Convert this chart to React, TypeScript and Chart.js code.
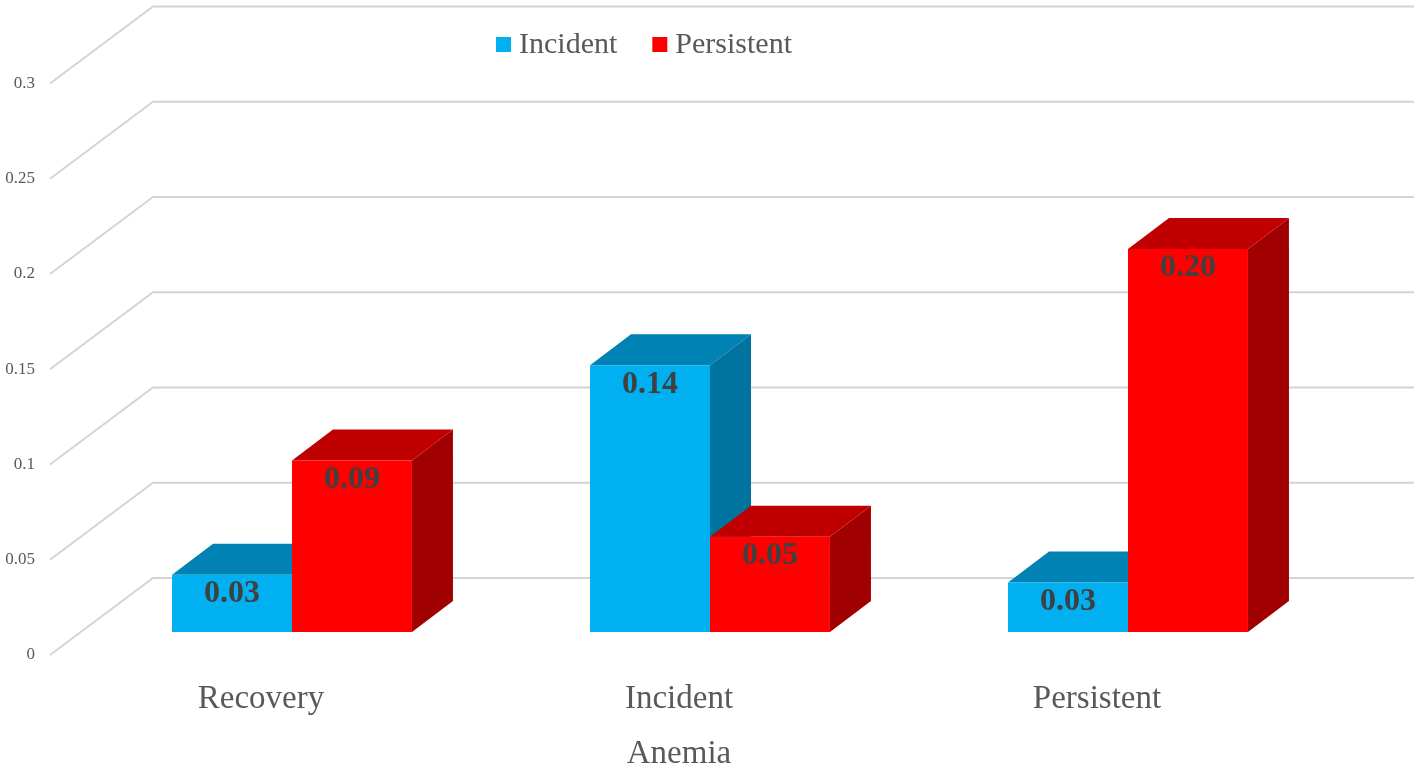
import React, { useEffect, useRef } from 'react';
import { Chart, registerables } from 'chart.js';

Chart.register(...registerables);

// data
const categories = ['Recovery', 'Incident', 'Persistent'];
const seriesNames = ['Incident', 'Persistent'];
const incidentValues = [0.03, 0.14, 0.026];
const persistentValues = [0.09, 0.05, 0.201];
const yTicks = [0, 0.05, 0.1, 0.15, 0.2, 0.25, 0.3];
const axisTitle = 'Anemia';

// front / top / side faces
const faceColors = [
  { front: '#00B0F0', top: '#0083B4', side: '#00739E' },
  { front: '#FF0000', top: '#C00000', side: '#A00000' },
];

const SERIF = '"Liberation Serif", "Times New Roman", serif';
const TEXT = '#595959';

// bar depth and wall offsets (oblique projection)
const DX = 41;
const DY = -31;
const FRONT = { dx: -33, dy: 23 };
const BACK = { dx: 70, dy: -54 };

const threeD = {
  id: 'threeD',
  beforeDatasetsDraw(chart: any) {
    const { ctx, chartArea, scales } = chart;
    const y = scales.y;
    ctx.save();
    // walls: diagonal + back wall gridlines
    ctx.strokeStyle = '#d4d4d4';
    ctx.lineWidth = 2;
    yTicks.forEach((v) => {
      const py = y.getPixelForValue(v);
      ctx.beginPath();
      ctx.moveTo(chartArea.left + FRONT.dx, py + FRONT.dy);
      ctx.lineTo(chartArea.left + BACK.dx, py + BACK.dy);
      ctx.lineTo(chart.width, py + BACK.dy);
      ctx.stroke();
    });
    // top and side faces; fronts are drawn by chart.js afterwards
    chart.data.datasets.forEach((ds: any, di: number) => {
      const meta = chart.getDatasetMeta(di);
      const c = faceColors[di];
      meta.data.forEach((bar: any) => {
        const { x, y: top, base, width } = bar.getProps(['x', 'y', 'base', 'width'], true);
        const l = x - width / 2;
        const r = x + width / 2;
        ctx.fillStyle = c.side;
        ctx.beginPath();
        ctx.moveTo(r, top);
        ctx.lineTo(r + DX, top + DY);
        ctx.lineTo(r + DX, base + DY);
        ctx.lineTo(r, base);
        ctx.closePath();
        ctx.fill();
        ctx.fillStyle = c.top;
        ctx.beginPath();
        ctx.moveTo(l, top);
        ctx.lineTo(l + DX, top + DY);
        ctx.lineTo(r + DX, top + DY);
        ctx.lineTo(r, top);
        ctx.closePath();
        ctx.fill();
      });
    });
    ctx.restore();
  },
  afterDatasetsDraw(chart: any) {
    const { ctx } = chart;
    ctx.save();
    ctx.font = 'bold 32px ' + SERIF;
    ctx.fillStyle = '#404040';
    ctx.textAlign = 'center';
    ctx.textBaseline = 'middle';
    chart.data.datasets.forEach((ds: any, di: number) => {
      chart.getDatasetMeta(di).data.forEach((bar: any, i: number) => {
        const { x, y } = bar.getProps(['x', 'y'], true);
        ctx.fillText(Number(ds.data[i]).toFixed(2), x, y + 19);
      });
    });
    ctx.restore();
  },
  afterDraw(chart: any) {
    const { ctx, chartArea } = chart;
    ctx.save();
    // axis title, placed on the front plane
    ctx.font = '33px ' + SERIF;
    ctx.fillStyle = TEXT;
    ctx.textAlign = 'center';
    ctx.textBaseline = 'alphabetic';
    ctx.fillText(axisTitle, (chartArea.left + chartArea.right) / 2 + FRONT.dx + 2, 763);

    // legend
    ctx.font = '30px ' + SERIF;
    ctx.textAlign = 'left';
    const box = 15;
    const gap = 8;
    const between = 35;
    const widths = seriesNames.map((n) => ctx.measureText(n).width);
    const total = widths.reduce((a, w) => a + box + gap + w, 0) + between * (seriesNames.length - 1);
    let lx = 644 - total / 2;
    seriesNames.forEach((n, i) => {
      ctx.fillStyle = faceColors[i].front;
      ctx.fillRect(lx, 37, box, box);
      ctx.fillStyle = TEXT;
      ctx.fillText(n, lx + box + gap, 53);
      lx += box + gap + widths[i] + between;
    });
    ctx.restore();
  },
};

const App: React.FC = () => {
  const canvasRef = useRef<HTMLCanvasElement>(null);
  const chartRef = useRef<Chart | null>(null);

  useEffect(() => {
    document.body.style.margin = '0';
    if (!canvasRef.current) return;
    if (chartRef.current) chartRef.current.destroy();

    chartRef.current = new Chart(canvasRef.current, {
      type: 'bar',
      data: {
        labels: categories,
        datasets: [
          {
            label: seriesNames[0],
            data: incidentValues,
            backgroundColor: faceColors[0].front,
            borderWidth: 0,
          },
          {
            label: seriesNames[1],
            data: persistentValues,
            backgroundColor: faceColors[1].front,
            borderWidth: 0,
          },
        ],
      },
      options: {
        animation: false,
        responsive: true,
        maintainAspectRatio: false,
        datasets: {
          bar: { categoryPercentage: 0.574, barPercentage: 1 },
        },
        layout: { padding: { left: 0, right: 77, top: 60.5, bottom: 0 } },
        plugins: {
          legend: { display: false },
          tooltip: { enabled: false },
        },
        scales: {
          x: {
            grid: { display: false, drawTicks: false },
            border: { display: false },
            ticks: {
              font: { family: SERIF, size: 33 },
              color: TEXT,
              padding: 48,
              labelOffset: FRONT.dx + 2,
            },
            afterFit: (s: any) => {
              s.height = 137;
            },
          },
          y: {
            min: 0,
            max: 0.3,
            grid: { display: false, drawTicks: false },
            border: { display: false },
            afterBuildTicks: (s: any) => {
              s.ticks = yTicks.map((v) => ({ value: v }));
            },
            ticks: {
              font: { family: SERIF, size: 17 },
              color: TEXT,
              padding: 48,
              labelOffset: FRONT.dy,
              callback: (v: any) => String(Number(Number(v).toFixed(2))),
            },
            afterFit: (s: any) => {
              s.width = 83;
            },
          },
        },
      },
      plugins: [threeD],
    });

    return () => {
      if (chartRef.current) {
        chartRef.current.destroy();
        chartRef.current = null;
      }
    };
  }, []);

  return (
    <div style={{ width: 1414, height: 769, position: 'relative', overflow: 'hidden', background: '#fff' }}>
      <canvas ref={canvasRef}></canvas>
    </div>
  );
};

export default App;
